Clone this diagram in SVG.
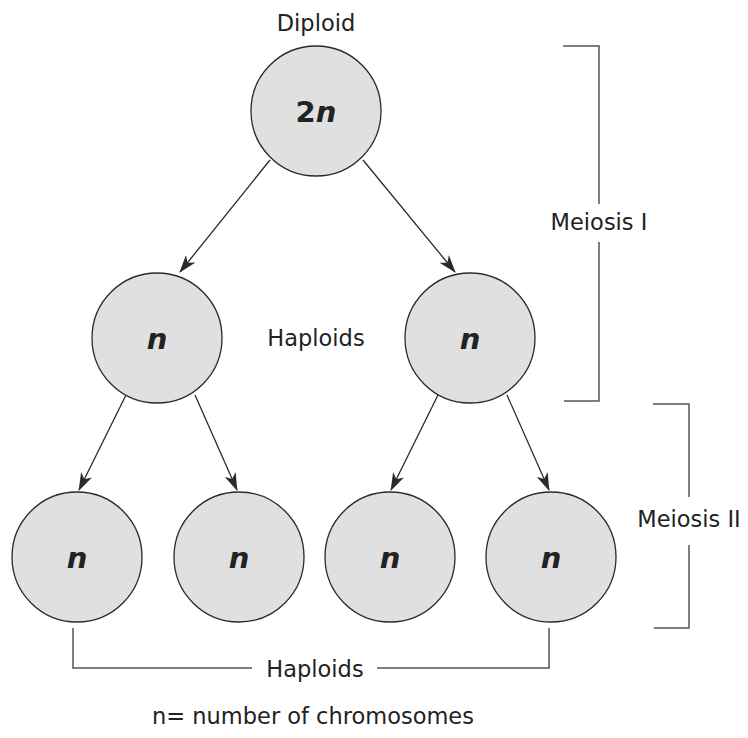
<svg xmlns="http://www.w3.org/2000/svg" width="748" height="738" viewBox="0 0 748 738">
<defs>
<style>
.cell{fill:#e0e0e0;stroke:#2a2a2a;stroke-width:1.3}
.lbl{font-family:"DejaVu Sans","Verdana",sans-serif;font-size:22.5px;fill:#222;text-anchor:middle}
.big{font-family:"DejaVu Sans","Verdana",sans-serif;font-size:29px;font-weight:bold;font-style:italic;fill:#222;text-anchor:middle}
.arr{stroke:#2a2a2a;stroke-width:1.3;fill:none;marker-end:url(#ah)}
.br{stroke:#555;stroke-width:1.5;fill:none}
</style>
<marker id="ah" viewBox="0 0 18 12" refX="17" refY="6" markerWidth="18" markerHeight="12" markerUnits="userSpaceOnUse" orient="auto">
<path d="M0,0 L18,6 L0,12 L5,6 z" fill="#2a2a2a"/>
</marker>
</defs>
<rect width="748" height="738" fill="#fff"/>
<text class="lbl" x="316" y="31">Diploid</text>
<g id="connectors">
<line class="arr" x1="270" y1="160" x2="180" y2="272"/>
<line class="arr" x1="363" y1="160" x2="455" y2="272"/>
<line class="arr" x1="126" y1="395" x2="79" y2="490"/>
<line class="arr" x1="195" y1="395" x2="237" y2="490"/>
<line class="arr" x1="438" y1="395" x2="391" y2="490"/>
<line class="arr" x1="507" y1="395" x2="549" y2="490"/>
</g>
<g id="n2n"><circle class="cell" cx="316" cy="111" r="65"/><text class="big" x="316" y="122"><tspan font-style="normal">2</tspan>n</text></g>
<g id="m1"><circle class="cell" cx="157" cy="338" r="65"/><text class="big" x="157" y="349">n</text></g>
<g id="m2"><circle class="cell" cx="470" cy="338" r="65"/><text class="big" x="470" y="349">n</text></g>
<g id="b1"><circle class="cell" cx="77" cy="557" r="65"/><text class="big" x="77" y="568">n</text></g>
<g id="b2"><circle class="cell" cx="239" cy="557" r="65"/><text class="big" x="239" y="568">n</text></g>
<g id="b3"><circle class="cell" cx="390" cy="557" r="65"/><text class="big" x="390" y="568">n</text></g>
<g id="b4"><circle class="cell" cx="551" cy="557" r="65"/><text class="big" x="551" y="568">n</text></g>
<text class="lbl" x="316" y="346">Haploids</text>
<g id="meiosis1">
<path class="br" d="M563,46 H599 V204 M599,242 V401 H564"/>
<text class="lbl" x="599" y="230">Meiosis I</text>
</g>
<g id="meiosis2">
<path class="br" d="M653,404 H689 V497 M689,545 V628 H654"/>
<text class="lbl" x="689" y="527">Meiosis II</text>
</g>
<g id="haploids-bottom">
<path class="br" d="M73,628 V668 H252 M377,668 H549 V628"/>
<text class="lbl" x="315" y="677">Haploids</text>
</g>
<text class="lbl" x="313" y="724">n= number of chromosomes</text>
</svg>
